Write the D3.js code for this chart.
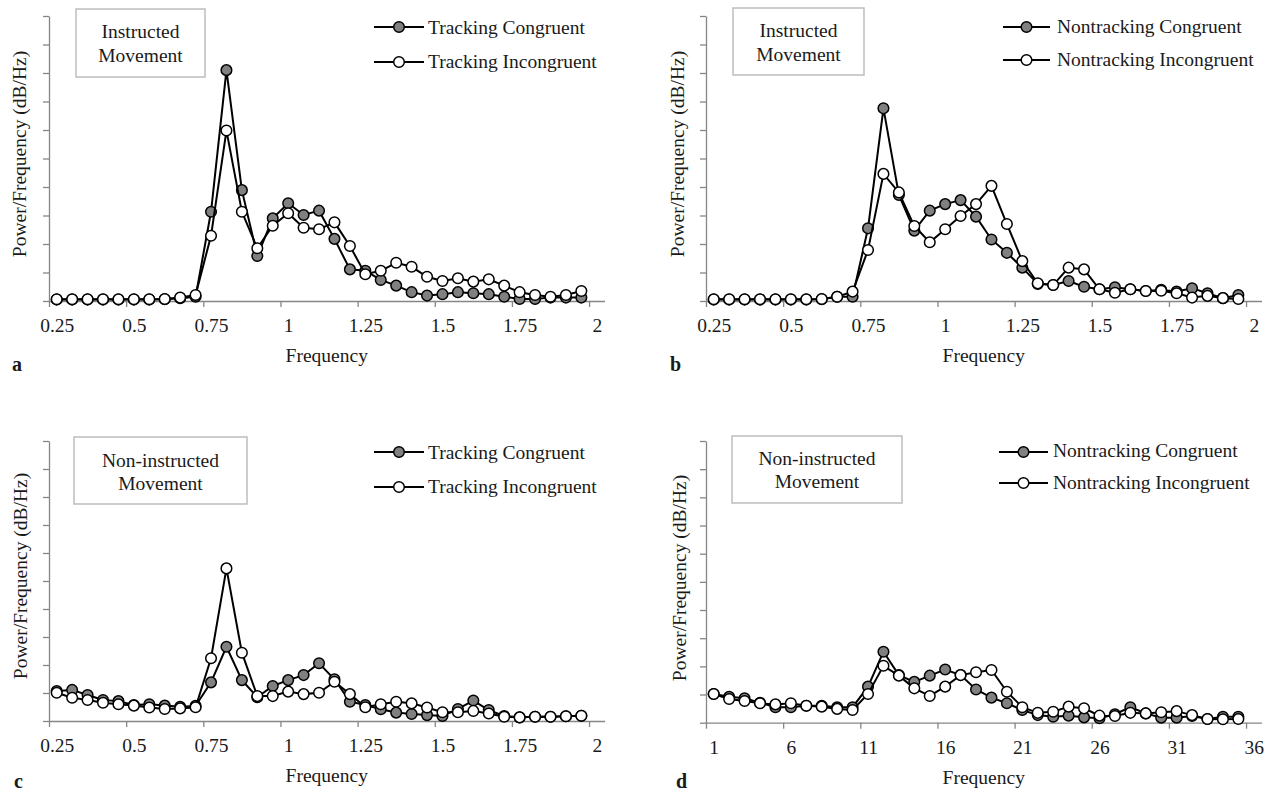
<!DOCTYPE html>
<html>
<head>
<meta charset="utf-8">
<script src="https://cdn.jsdelivr.net/npm/d3@7"></script>
<style>
  body { margin: 0; background: #fff; }
  text { font-family: "Liberation Serif", "Times New Roman", serif; fill: #1a1a1a; }
</style>
</head>
<body>
<div id="chart"></div>
<script>
// categories: 36 bins on the x axis, 35 points in each series
const nCats = 36;
const tickCats = [0, 5, 10, 15, 20, 25, 30, 35];
const hzLabels = ["0.25", "0.5", "0.75", "1", "1.25", "1.5", "1.75", "2"];
const binLabels = ["1", "6", "11", "16", "21", "26", "31", "36"];

// a - instructed, tracking
const aCongruent = [0.05, 0.05, 0.05, 0.05, 0.05, 0.05, 0.05, 0.06, 0.1, 0.15,
  3.13, 8.1, 3.89, 1.58, 2.9, 3.43, 3.02, 3.17, 2.18, 1.11,
  1.06, 0.74, 0.54, 0.31, 0.19, 0.24, 0.31, 0.27, 0.24, 0.15,
  0.07, 0.07, 0.12, 0.12, 0.12];
const aIncongruent = [0.06, 0.06, 0.06, 0.06, 0.06, 0.06, 0.06, 0.07, 0.12, 0.21,
  2.29, 5.98, 3.13, 1.85, 2.64, 3.08, 2.57, 2.52, 2.76, 1.93,
  0.94, 1.06, 1.34, 1.2, 0.85, 0.7, 0.8, 0.68, 0.76, 0.54,
  0.31, 0.21, 0.15, 0.21, 0.35];

// b - instructed, nontracking
const bCongruent = [0.05, 0.05, 0.05, 0.05, 0.05, 0.05, 0.05, 0.06, 0.15, 0.15,
  2.55, 6.76, 3.72, 2.47, 3.17, 3.4, 3.54, 2.96, 2.16, 1.69,
  1.17, 0.6, 0.56, 0.7, 0.5, 0.41, 0.48, 0.41, 0.35, 0.39,
  0.33, 0.45, 0.27, 0.1, 0.21];
const bIncongruent = [0.06, 0.06, 0.06, 0.06, 0.06, 0.06, 0.06, 0.07, 0.15, 0.33,
  1.79, 4.46, 3.81, 2.63, 2.06, 2.52, 2.98, 3.4, 4.04, 2.7,
  1.4, 0.62, 0.56, 1.17, 1.11, 0.41, 0.29, 0.41, 0.35, 0.36,
  0.27, 0.12, 0.18, 0.1, 0.07];

// c - non-instructed, tracking
const cCongruent = [1.07, 1.11, 0.93, 0.75, 0.71, 0.57, 0.6, 0.55, 0.51, 0.54,
  1.38, 2.65, 1.46, 0.85, 1.25, 1.46, 1.64, 2.06, 1.49, 0.69,
  0.57, 0.42, 0.3, 0.25, 0.21, 0.18, 0.43, 0.73, 0.39, 0.18,
  0.13, 0.15, 0.15, 0.17, 0.19];
const cIncongruent = [1.01, 0.83, 0.75, 0.65, 0.6, 0.55, 0.48, 0.43, 0.45, 0.49,
  2.24, 5.45, 2.44, 0.89, 0.89, 1.05, 0.96, 1.01, 1.4, 0.96,
  0.49, 0.6, 0.69, 0.63, 0.48, 0.31, 0.31, 0.36, 0.27, 0.15,
  0.13, 0.15, 0.15, 0.17, 0.19];

// d - non-instructed, nontracking
const dCongruent = [1.02, 0.92, 0.87, 0.71, 0.55, 0.55, 0.6, 0.6, 0.55, 0.55,
  1.28, 2.52, 1.69, 1.45, 1.67, 1.89, 1.69, 1.18, 0.89, 0.69,
  0.45, 0.27, 0.21, 0.25, 0.19, 0.16, 0.3, 0.55, 0.33, 0.18,
  0.18, 0.24, 0.13, 0.21, 0.21];
const dIncongruent = [1.02, 0.84, 0.77, 0.69, 0.65, 0.69, 0.6, 0.57, 0.49, 0.45,
  1.02, 2.02, 1.67, 1.22, 0.95, 1.28, 1.69, 1.79, 1.87, 1.1,
  0.55, 0.35, 0.39, 0.57, 0.51, 0.25, 0.24, 0.35, 0.33, 0.37,
  0.41, 0.27, 0.13, 0.12, 0.13];

const width = 1270;
const height = 793;

const panels = [
  { letter: "a", x0: 49, x1: 604.5, y0: 16, y1: 301, labels: hzLabels,
    series: [aCongruent, aIncongruent], names: ["Tracking Congruent", "Tracking Incongruent"],
    box: [76, 9, 129, 68], boxText: ["Instructed", "Movement"], boxBase: [38.3, 61.7],
    leg: { x0: 374, x1: 424, tx: 428, ys: [27, 62], base: [34.3, 68.3] },
    yTitle: [26, 154], letterPos: [12, 371] },
  { letter: "b", x0: 706, x1: 1261.5, y0: 16, y1: 301, labels: hzLabels,
    series: [bCongruent, bIncongruent], names: ["Nontracking Congruent", "Nontracking Incongruent"],
    box: [733, 8, 131, 67], boxText: ["Instructed", "Movement"], boxBase: [37.3, 60.7],
    leg: { x0: 1003, x1: 1050, tx: 1057, ys: [27, 60], base: [33.3, 66] },
    yTitle: [684, 154], letterPos: [670, 371] },
  { letter: "c", x0: 49, x1: 604.5, y0: 441, y1: 721, labels: hzLabels,
    series: [cCongruent, cIncongruent], names: ["Tracking Congruent", "Tracking Incongruent"],
    box: [74, 437, 173, 67], boxText: ["Non-instructed", "Movement"], boxBase: [466.7, 490],
    leg: { x0: 374, x1: 424, tx: 428, ys: [452, 487], base: [459, 493.3] },
    yTitle: [27, 576], letterPos: [14, 788] },
  { letter: "d", x0: 706, x1: 1261.5, y0: 441, y1: 722.7, labels: binLabels,
    series: [dCongruent, dIncongruent], names: ["Nontracking Congruent", "Nontracking Incongruent"],
    box: [732, 436, 170, 67], boxText: ["Non-instructed", "Movement"], boxBase: [465, 488],
    leg: { x0: 999, x1: 1048, tx: 1053, ys: [452, 483], base: [457.3, 489] },
    yTitle: [686, 578], letterPos: [676, 788] },
];

const fills = ["#808080", "#ffffff"];
const axisColor = "#868686";
const fontSize = 19.5;

const svg = d3.select("#chart").append("svg")
  .attr("width", width)
  .attr("height", height);

panels.forEach((p) => {
  const g = svg.append("g");

  const x = d3.scaleLinear().domain([0, nCats]).range([p.x0, p.x1]);
  const y = d3.scaleLinear().domain([0, 10]).range([p.y1, p.y0]);

  // y axis: 10 unlabelled intervals
  const yAxisG = g.append("g").attr("transform", "translate(" + p.x0 + ",0)")
    .call(d3.axisLeft(y).tickValues(d3.range(0, 11)).tickFormat("").tickSize(6).tickSizeOuter(0));

  // x axis: tick marks on category borders
  const xAxisG = g.append("g").attr("transform", "translate(0," + p.y1 + ")")
    .call(d3.axisBottom(x).tickValues(tickCats).tickFormat("").tickSize(6).tickSizeOuter(0));

  // x labels centred on the categories
  const xLabG = g.append("g").attr("transform", "translate(0," + p.y1 + ")")
    .call(d3.axisBottom(x).tickValues(tickCats.map((c) => c + 0.5))
      .tickFormat((d, i) => p.labels[i]).tickSize(0));
  xLabG.select(".domain").remove();
  xLabG.selectAll("text")
    .attr("y", 31).attr("dy", 0)
    .style("font-family", "Liberation Serif")
    .style("font-size", fontSize + "px")
    .attr("fill", "#1a1a1a");

  [yAxisG, xAxisG].forEach((ax) => {
    ax.selectAll("path, line").attr("stroke", axisColor).attr("stroke-width", 1.3);
  });

  // series, congruent first so incongruent sits on top
  const line = d3.line().x((d, i) => x(i + 0.5)).y((d) => y(d));
  p.series.forEach((vals, s) => {
    g.append("path")
      .datum(vals)
      .attr("d", line)
      .attr("fill", "none")
      .attr("stroke", "#000")
      .attr("stroke-width", 2);
    g.selectAll(".dot" + s)
      .data(vals)
      .enter()
      .append("circle")
      .attr("class", "dot" + s)
      .attr("cx", (d, i) => x(i + 0.5))
      .attr("cy", (d) => y(d))
      .attr("r", 5.3)
      .attr("fill", fills[s])
      .attr("stroke", "#000")
      .attr("stroke-width", 1.5);
  });

  // titles
  g.append("text")
    .attr("transform", "translate(" + p.yTitle[0] + "," + p.yTitle[1] + ") rotate(-90)")
    .attr("text-anchor", "middle")
    .style("font-size", fontSize + "px")
    .text("Power/Frequency (dB/Hz)");

  g.append("text")
    .attr("x", (p.x0 + p.x1) / 2)
    .attr("y", p.y1 + 61)
    .attr("text-anchor", "middle")
    .style("font-size", fontSize + "px")
    .text("Frequency");

  g.append("text")
    .attr("x", p.letterPos[0])
    .attr("y", p.letterPos[1])
    .style("font-size", "20px")
    .style("font-weight", "bold")
    .text(p.letter);

  // condition box
  g.append("rect")
    .attr("x", p.box[0]).attr("y", p.box[1])
    .attr("width", p.box[2]).attr("height", p.box[3])
    .attr("fill", "#fff")
    .attr("stroke", "#bdbdbd")
    .attr("stroke-width", 1.5);
  p.boxText.forEach((t, i) => {
    g.append("text")
      .attr("x", p.box[0] + p.box[2] / 2)
      .attr("y", p.boxBase[i])
      .attr("text-anchor", "middle")
      .style("font-size", fontSize + "px")
      .text(t);
  });

  // legend
  p.names.forEach((name, s) => {
    const ly = p.leg.ys[s];
    g.append("line")
      .attr("x1", p.leg.x0).attr("x2", p.leg.x1)
      .attr("y1", ly).attr("y2", ly)
      .attr("stroke", "#000").attr("stroke-width", 2);
    g.append("circle")
      .attr("cx", (p.leg.x0 + p.leg.x1) / 2).attr("cy", ly)
      .attr("r", 5.3)
      .attr("fill", fills[s])
      .attr("stroke", "#000").attr("stroke-width", 1.5);
    g.append("text")
      .attr("x", p.leg.tx).attr("y", p.leg.base[s])
      .style("font-size", fontSize + "px")
      .text(name);
  });
});
</script>
</body>
</html>
